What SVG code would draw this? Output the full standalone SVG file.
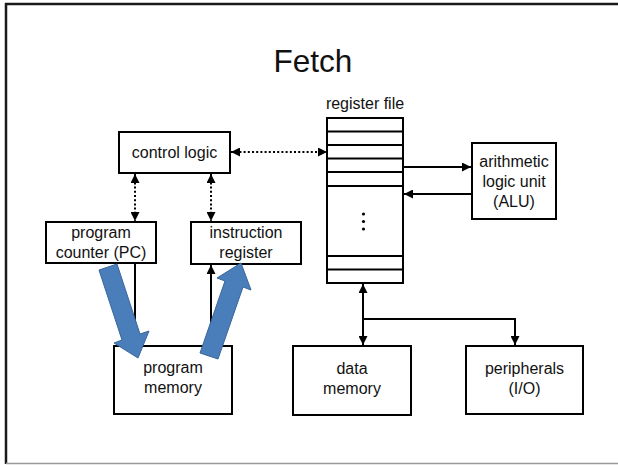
<svg xmlns="http://www.w3.org/2000/svg" width="618" height="465" viewBox="0 0 618 465">
  <style>
    .box { fill: #fff; stroke: #000; stroke-width: 2; }
    .lbl { font-family: "Liberation Sans", Arial, sans-serif; font-size: 16px; fill: #111; text-anchor: middle; }
    .wire { fill: none; stroke: #000; stroke-width: 2; }
    .dot { fill: none; stroke: #000; stroke-width: 2; stroke-dasharray: 2 2.2; }
    .row { stroke: #000; stroke-width: 2; }
    .flow { fill: #4a7ebb; stroke: #3a659a; stroke-width: 1; }
  </style>
  <defs>
    <marker id="ah" viewBox="0 0 10 10" refX="10" refY="5" markerWidth="10" markerHeight="9" markerUnits="userSpaceOnUse" orient="auto-start-reverse">
      <path d="M0,0 L10,5 L0,10 z" fill="#000"/>
    </marker>
  </defs>

  <rect width="618" height="465" fill="#fff"/>

  <!-- slide frame -->
  <g id="frame">
    <line x1="5" y1="4" x2="618" y2="4" stroke="#1a1a1a" stroke-width="2.5"/>
    <line x1="6" y1="3" x2="6" y2="464" stroke="#1a1a1a" stroke-width="2.5"/>
    <line x1="6" y1="463.5" x2="618" y2="463.5" stroke="#9a9a9a" stroke-width="1.5"/>
  </g>

  <text x="313" y="72" font-family="'Liberation Sans', Arial, sans-serif" font-size="31.5" fill="#111" text-anchor="middle">Fetch</text>

  <!-- connectors -->
  <g id="connectors">
    <line class="dot" x1="231" y1="152" x2="327" y2="152" marker-start="url(#ah)" marker-end="url(#ah)"/>
    <line class="dot" x1="135" y1="174" x2="135" y2="221" marker-start="url(#ah)" marker-end="url(#ah)"/>
    <line class="dot" x1="211" y1="174" x2="211" y2="221" marker-start="url(#ah)" marker-end="url(#ah)"/>
    <line class="wire" x1="403" y1="167" x2="471" y2="167" marker-end="url(#ah)"/>
    <line class="wire" x1="472" y1="194" x2="404" y2="194" marker-end="url(#ah)"/>
    <line class="wire" x1="363" y1="284" x2="363" y2="345" marker-start="url(#ah)" marker-end="url(#ah)"/>
    <polyline class="wire" points="363,319 515,319 515,345" marker-end="url(#ah)"/>
    <line class="wire" x1="135" y1="263" x2="135" y2="346"/>
    <line class="wire" x1="211" y1="346" x2="211" y2="265" marker-end="url(#ah)"/>
  </g>

  <g id="control-logic">
    <rect class="box" x="119" y="132" width="111" height="41"/>
    <text class="lbl" x="174.5" y="157.5">control logic</text>
  </g>

  <g id="program-counter">
    <rect class="box" x="46" y="222" width="110" height="41"/>
    <text class="lbl" x="101" y="237.5">program</text>
    <text class="lbl" x="101" y="257.5">counter (PC)</text>
  </g>

  <g id="instruction-register">
    <rect class="box" x="191" y="222" width="110" height="42"/>
    <text class="lbl" x="246" y="237.5">instruction</text>
    <text class="lbl" x="246" y="258">register</text>
  </g>

  <g id="register-file">
    <text class="lbl" x="365" y="109">register file</text>
    <rect class="box" x="327" y="118" width="76" height="165"/>
    <line class="row" x1="327" y1="131.5" x2="403" y2="131.5"/>
    <line class="row" x1="327" y1="145" x2="403" y2="145"/>
    <line class="row" x1="327" y1="158.5" x2="403" y2="158.5"/>
    <line class="row" x1="327" y1="172" x2="403" y2="172"/>
    <line class="row" x1="327" y1="186" x2="403" y2="186"/>
    <line class="row" x1="327" y1="256" x2="403" y2="256"/>
    <line class="row" x1="327" y1="269.5" x2="403" y2="269.5"/>
    <circle cx="363.5" cy="214" r="1.6" fill="#000"/>
    <circle cx="363.5" cy="221.5" r="1.6" fill="#000"/>
    <circle cx="363.5" cy="229" r="1.6" fill="#000"/>
  </g>

  <g id="alu">
    <rect class="box" x="472" y="143" width="84" height="76"/>
    <text class="lbl" x="514" y="167">arithmetic</text>
    <text class="lbl" x="514" y="187">logic unit</text>
    <text class="lbl" x="514" y="207">(ALU)</text>
  </g>

  <g id="program-memory">
    <rect class="box" x="114" y="346" width="118" height="68"/>
    <text class="lbl" x="173" y="373">program</text>
    <text class="lbl" x="173" y="393">memory</text>
  </g>

  <g id="data-memory">
    <rect class="box" x="293" y="346" width="118" height="69"/>
    <text class="lbl" x="352" y="374">data</text>
    <text class="lbl" x="352" y="394">memory</text>
  </g>

  <g id="peripherals">
    <rect class="box" x="466" y="346" width="117" height="68"/>
    <text class="lbl" x="524.5" y="374">peripherals</text>
    <text class="lbl" x="524.5" y="394">(I/O)</text>
  </g>

  <!-- block arrows showing the fetch flow -->
  <g id="fetch-flow">
    <polygon class="flow" points="99,270 117,264 140,334 149,331 138,358 114,343 122,340"/>
    <polygon class="flow" points="200,353 218,359 243,287 251,290 241,263 217,278 225,281"/>
  </g>
</svg>
